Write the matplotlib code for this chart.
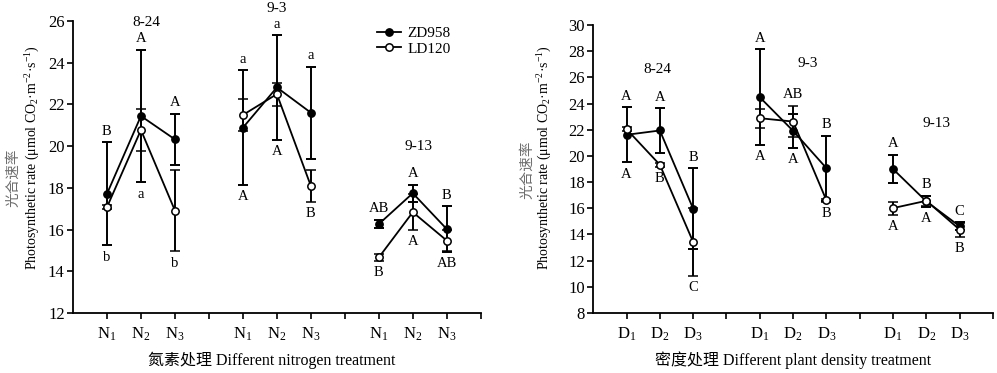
import matplotlib
matplotlib.use("Agg")
import matplotlib.pyplot as plt
from matplotlib.lines import Line2D
import numpy as np

plt.rcParams['font.family'] = ['Liberation Serif', 'Noto Sans CJK SC']
plt.rcParams['mathtext.fontset'] = 'custom'
plt.rcParams['mathtext.rm'] = 'Liberation Serif'
plt.rcParams['mathtext.it'] = 'Liberation Serif:italic'
plt.rcParams['axes.unicode_minus'] = False

# x positions: three treatments per sampling date, gap between dates
xpos = [1, 2, 3, 5, 6, 7, 9, 10, 11]
dates = ['8-24', '9-3', '9-13']
n_ticklabels = ['N$_1$', 'N$_2$', 'N$_3$'] * 3
d_ticklabels = ['D$_1$', 'D$_2$', 'D$_3$'] * 3

# nitrogen treatment
zd_n = [17.71, 21.44, 20.32, 20.88, 22.81, 21.60, 16.26, 17.74, 16.02]
zd_n_err = [2.47, 3.18, 1.23, 2.75, 2.50, 2.20, 0.20, 0.40, 1.10]
ld_n = [17.07, 20.77, 16.91, 21.49, 22.49, 18.09, 14.66, 16.83, 15.47]
ld_n_err = [0.10, 1.02, 1.95, 0.76, 0.55, 0.75, 0.15, 0.85, 0.50]
n_top = ['B', 'A', 'A', 'a', 'a', 'a', 'AB', 'A', 'B']
n_bot = ['b', 'a', 'b', 'A', 'A', 'B', 'B', 'A', 'AB']
n_date_xy = [(2.15, 25.9), (6.0, 26.6), (10.18, 19.97)]

# plant density treatment
zd_d = [21.61, 21.94, 15.96, 24.48, 21.91, 19.06, 18.99, 16.52, 14.62]
zd_d_err = [2.10, 1.70, 3.10, 3.65, 1.30, 2.47, 1.07, 0.43, 0.30]
ld_d = [22.04, 19.32, 13.42, 22.88, 22.62, 16.60, 16.01, 16.57, 14.36]
ld_d_err = [0.15, 0.15, 2.60, 0.73, 1.20, 0.10, 0.50, 0.40, 0.55]
d_top = ['A', 'A', 'B', 'A', 'AB', 'B', 'A', 'B', 'C']
d_bot = ['A', 'B', 'C', 'A', 'A', 'B', 'A', 'A', 'B']
d_date_xy = [(1.92, 26.57), (6.45, 27.08), (10.3, 22.5)]

FS = 12      # tick labels
FS_TXT = 10.5  # letters / dates
FS_LAB = 11.5


def draw_panel(ax, zd, zd_err, ld, ld_err, top, bot, date_xy, ticklabels, ylim, yticks):
	x = np.array(xpos)
	zd = np.array(zd); ld = np.array(ld)
	zd_err = np.array(zd_err); ld_err = np.array(ld_err)
	for g in range(3):
		s = slice(3 * g, 3 * g + 3)
		ax.errorbar(x[s], zd[s], yerr=zd_err[s], color='k', lw=1.3, elinewidth=1.4,
			capsize=3.6, capthick=1.4, marker='o', ms=5.3, mfc='k', mec='k', zorder=3)
		ax.errorbar(x[s], ld[s], yerr=ld_err[s], color='k', lw=1.3, elinewidth=1.4,
			capsize=3.6, capthick=1.4, marker='o', ms=5.3, mfc='white', mec='k', mew=1.1,
			zorder=4)
	hi = np.maximum(zd + zd_err, ld + ld_err)
	lo = np.minimum(zd - zd_err, ld - ld_err)
	for i in range(len(x)):
		ax.annotate(top[i], (x[i], hi[i]), xytext=(0, 8), textcoords='offset points',
			ha='center', va='center', fontsize=FS_TXT)
		ax.annotate(bot[i], (x[i], lo[i]), xytext=(0, -8.5), textcoords='offset points',
			ha='center', va='center', fontsize=FS_TXT)
	for d, (dx, dy) in zip(dates, date_xy):
		ax.text(dx, dy, d, ha='center', va='center', fontsize=FS_TXT + 0.5, clip_on=False)

	ax.set_xlim(0, 12)
	ax.set_ylim(*ylim)
	ax.set_yticks(yticks)
	ax.set_xticks(range(1, 13))
	ax.set_xticklabels([ticklabels[xpos.index(t)] if t in xpos else '' for t in range(1, 13)])
	ax.spines['top'].set_visible(False)
	ax.spines['right'].set_visible(False)
	ax.spines['left'].set_linewidth(1.3)
	ax.spines['bottom'].set_linewidth(1.3)
	ax.tick_params(direction='out', length=4, width=1.2, labelsize=FS)
	ax.tick_params(axis='x', pad=5)
	ax.tick_params(axis='y', pad=2)


fig = plt.figure(figsize=(9.97, 3.73), dpi=100)
ax1 = fig.add_axes([0.0732, 0.161, 0.409, 0.783])
ax2 = fig.add_axes([0.595, 0.161, 0.401, 0.772])

draw_panel(ax1, zd_n, zd_n_err, ld_n, ld_n_err, n_top, n_bot, n_date_xy, n_ticklabels,
	(12, 26), range(12, 27, 2))
draw_panel(ax2, zd_d, zd_d_err, ld_d, ld_d_err, d_top, d_bot, d_date_xy, d_ticklabels,
	(8, 30), range(8, 31, 2))

handles = [Line2D([], [], color='k', lw=1.3, marker='o', ms=5.3, mfc='k', mec='k'),
	Line2D([], [], color='k', lw=1.3, marker='o', ms=5.3, mfc='white', mec='k', mew=1.1)]
ax1.legend(handles, ['ZD958', 'LD120'], loc='upper left', bbox_to_anchor=(0.745, 0.98),
	frameon=False, fontsize=11, handlelength=1.6, handletextpad=0.4, labelspacing=0.1,
	borderpad=0, borderaxespad=0)

ylab = 'Photosynthetic rate (μmol CO$_2$·m$^{-2}$·s$^{-1}$)'
fig.text(0.013, 0.523, '光合速率', rotation=90, ha='center', va='center', fontsize=10.5, color='#6e6e6e')
fig.text(0.033, 0.579, ylab, rotation=90, ha='center', va='center', fontsize=10)
fig.text(0.5286, 0.544, '光合速率', rotation=90, ha='center', va='center', fontsize=10.5, color='#6e6e6e')
fig.text(0.5466, 0.579, ylab, rotation=90, ha='center', va='center', fontsize=10)

fig.text(0.273, 0.035, '氮素处理 Different nitrogen treatment', ha='center', va='center', fontsize=FS_LAB)
fig.text(0.795, 0.035, '密度处理 Different plant density treatment', ha='center', va='center', fontsize=FS_LAB)

fig.savefig('out.png', dpi=100)
